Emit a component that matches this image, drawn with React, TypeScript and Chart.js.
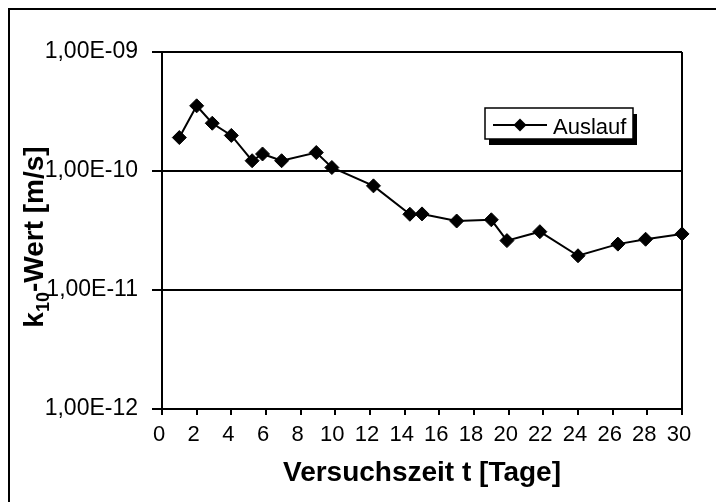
import { useEffect, useRef } from 'react';
import { Chart, registerables } from 'chart.js';

Chart.register(...registerables);

// ---- data ----
const days = [1, 2, 2.9, 4, 5.2, 5.8, 6.9, 8.9, 9.8, 12.2, 14.3, 15, 17, 19, 19.9, 21.8, 24, 26.3, 27.9, 30];
const kValues = [
  1.91e-10, 3.53e-10, 2.52e-10, 1.99e-10, 1.22e-10, 1.39e-10, 1.22e-10, 1.43e-10, 1.07e-10,
  7.5e-11, 4.33e-11, 4.36e-11, 3.8e-11, 3.89e-11, 2.6e-11, 3.09e-11, 1.94e-11, 2.43e-11, 2.67e-11, 2.96e-11,
];
const yTickValues = [1e-12, 1e-11, 1e-10, 1e-9];
const xMin = 0;
const xMax = 30;
const xStep = 2;
const seriesLabel = 'Auslauf';
const xTitle = 'Versuchszeit t [Tage]';
const yTitleMain = 'k';
const yTitleSub = '10';
const yTitleRest = '-Wert [m/s]';

const FONT = "'Liberation Sans', Arial, sans-serif";

function sci(v: number): string {
  const e = Math.floor(Math.log10(v) + 1e-9);
  const m = v / Math.pow(10, e);
  const es = (e < 0 ? '-' : '+') + String(Math.abs(e)).padStart(2, '0');
  return m.toFixed(2).replace('.', ',') + 'E' + es;
}

const decor = {
  id: 'decor',
  beforeDatasetsDraw(chart: any) {
    const { ctx, chartArea: a } = chart;
    ctx.save();
    ctx.strokeStyle = '#000';
    ctx.lineWidth = 2;
    ctx.beginPath();
    ctx.moveTo(Math.round(a.right), a.top);
    ctx.lineTo(Math.round(a.right), a.bottom);
    ctx.stroke();
    ctx.restore();
  },
  afterDraw(chart: any) {
    const { ctx, chartArea: a } = chart;
    ctx.save();
    ctx.fillStyle = '#000';

    // x title
    ctx.font = `bold 28px ${FONT}`;
    ctx.textAlign = 'center';
    ctx.textBaseline = 'alphabetic';
    ctx.fillText(xTitle, (a.left + a.right) / 2, 471);

    // y title (rotated, with subscript)
    const mainFont = `bold 28px ${FONT}`;
    const subFont = `bold 18px ${FONT}`;
    ctx.font = mainFont;
    const wK = ctx.measureText(yTitleMain).width;
    const wR = ctx.measureText(yTitleRest).width;
    ctx.font = subFont;
    const wS = ctx.measureText(yTitleSub).width;
    const total = wK + wS + wR;
    ctx.translate(33, 227);
    ctx.rotate(-Math.PI / 2);
    ctx.textAlign = 'left';
    let x = -total / 2;
    ctx.font = mainFont;
    ctx.fillText(yTitleMain, x, 0);
    x += wK;
    ctx.font = subFont;
    ctx.fillText(yTitleSub, x, 6);
    x += wS;
    ctx.font = mainFont;
    ctx.fillText(yTitleRest, x, 0);
    ctx.restore();

    // legend box with shadow
    ctx.save();
    const bx = 475, by = 98, bw = 148, bh = 31;
    ctx.fillStyle = '#000';
    ctx.fillRect(bx + 4, by + 6, bw, bh);
    ctx.fillStyle = '#fff';
    ctx.fillRect(bx, by, bw, bh);
    ctx.strokeStyle = '#000';
    ctx.lineWidth = 1.5;
    ctx.strokeRect(bx, by, bw, bh);
    ctx.lineWidth = 2;
    ctx.beginPath();
    ctx.moveTo(bx + 8, by + 17);
    ctx.lineTo(bx + 62, by + 17);
    ctx.stroke();
    ctx.beginPath();
    const cx = bx + 35, cy = by + 17, r = 6.5;
    ctx.moveTo(cx, cy - r);
    ctx.lineTo(cx + r, cy);
    ctx.lineTo(cx, cy + r);
    ctx.lineTo(cx - r, cy);
    ctx.closePath();
    ctx.fillStyle = '#000';
    ctx.fill();
    ctx.font = `22px ${FONT}`;
    ctx.textAlign = 'left';
    ctx.textBaseline = 'middle';
    ctx.fillText(seriesLabel, bx + 68, by + 20);
    ctx.restore();
  },
};

export default function App() {
  const ref = useRef<HTMLCanvasElement>(null);
  useEffect(() => {
    if (!ref.current) return;
    const data = days.map((d, i) => ({ x: d, y: kValues[i] }));
    const chart = new Chart(ref.current, {
      type: 'line',
      data: {
        datasets: [
          {
            label: seriesLabel,
            data,
            borderColor: '#000',
            backgroundColor: '#000',
            borderWidth: 2,
            pointStyle: 'rectRot',
            pointRadius: 7,
            pointBorderWidth: 1,
            pointBackgroundColor: '#000',
            pointBorderColor: '#000',
            tension: 0,
            clip: false as any,
          },
        ],
      },
      options: {
        animation: false,
        responsive: false,
        devicePixelRatio: 1,
        layout: { padding: { top: 42, right: 34, left: 0, bottom: 0 } },
        plugins: { legend: { display: false }, tooltip: { enabled: false } },
        scales: {
          x: {
            type: 'linear',
            min: xMin,
            max: xMax,
            ticks: {
              stepSize: xStep,
              color: '#000',
              font: { family: FONT, size: 22 },
              padding: 7,
              labelOffset: -3,
              maxRotation: 0,
              autoSkip: false,
            },
            grid: { drawOnChartArea: false, drawTicks: true, tickLength: 6, color: '#000', lineWidth: 2 },
            border: { display: true, color: '#000', width: 2 },
            afterFit(scale: any) {
              scale.height = 93;
            },
          },
          y: {
            type: 'logarithmic',
            min: yTickValues[0],
            max: yTickValues[yTickValues.length - 1],
            afterBuildTicks(scale: any) {
              scale.ticks = yTickValues.map((v) => ({ value: v, major: true }));
            },
            ticks: {
              color: '#000',
              font: { family: FONT, size: 23 },
              padding: 14,
              callback: (v: any) => sci(Number(v)),
            },
            grid: { drawTicks: true, tickLength: 10, color: '#000', lineWidth: 2 },
            border: { display: true, color: '#000', width: 2 },
            afterFit(scale: any) {
              scale.width = 152;
            },
          },
        },
      },
      plugins: [decor],
    });
    return () => chart.destroy();
  }, []);

  return (
    <div
      style={{
        position: 'fixed',
        left: 8,
        top: 8,
        borderLeft: '2px solid #000',
        borderTop: '2px solid #000',
        width: 706,
        height: 492,
        background: '#fff',
      }}
    >
      <canvas ref={ref} width={706} height={492} style={{ display: 'block', width: 706, height: 492 }} />
    </div>
  );
}
